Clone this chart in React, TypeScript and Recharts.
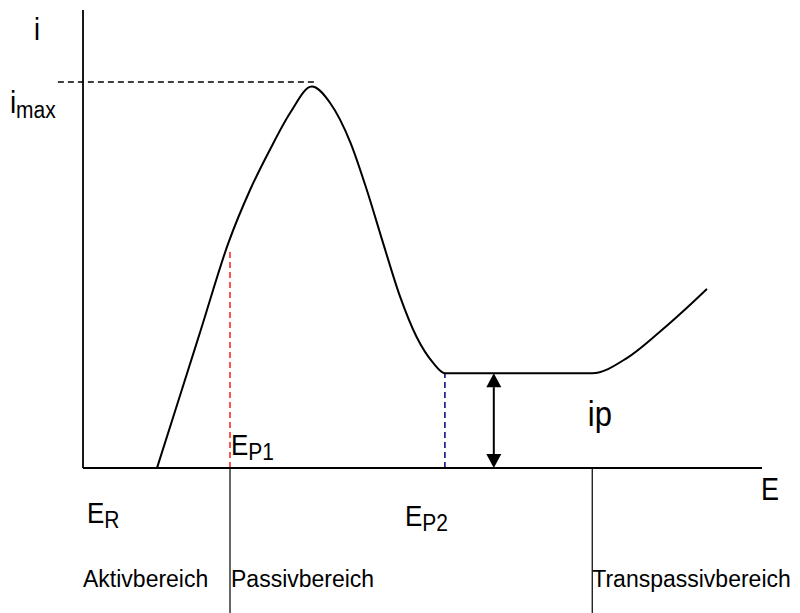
import React from 'react';
import { LineChart, Line, XAxis, YAxis, ReferenceLine, ReferenceDot } from 'recharts';

// Stromdichte-Potential-Kurve (schematisch), beliebige Einheiten
const potential = [1.09, 1.45, 1.73, 2.14, 2.46, 2.75, 3.05, 3.37, 3.64, 3.94, 4.18, 4.42, 4.67, 4.91, 5.16, 5.33, 7.5, 8.01, 8.5, 8.99, 9.19];
const current = [0, 1.68, 2.99, 4.91, 6.07, 6.94, 7.75, 8.33, 7.97, 7.1, 6.07, 4.91, 3.74, 2.87, 2.29, 2.07, 2.07, 2.4, 2.98, 3.63, 3.91];

const E_R = 1.09;
const E_P1 = 2.165;
const E_P2 = 5.33;
const E_T = 7.5;
const I_P = 2.07;
const I_MAX = 8.43;
const IP_ARROW_E = 6.05;
const RED_TOP = 4.76;

const regionLabels = ['Aktivbereich', 'Passivbereich', 'Transpassivbereich'];

const data = potential.map((e, idx) => ({ E: e, i: current[idx] }));

const FONT = '"Liberation Sans", Arial, sans-serif';

type TxtProps = {
  x: number;
  y: number;
  main: string;
  sub?: string;
  size?: number;
  subSize?: number;
  stretch?: number;
  anchor?: 'start' | 'middle' | 'end';
};

const Txt = ({ x, y, main, sub, size = 26, subSize = 20, stretch = 1.15, anchor = 'start' }: TxtProps) => (
  <text
    transform={`translate(${x} ${y}) scale(1 ${stretch})`}
    fontFamily={FONT}
    fontSize={size}
    fill="#000"
    textAnchor={anchor}
  >
    {main}
    {sub && (
      <tspan fontSize={subSize} dy={4}>
        {sub}
      </tspan>
    )}
  </text>
);

// Doppelpfeil fuer den Passivstrom
const DoubleArrow = (props: any) => {
  const { x1, y1, x2, y2 } = props;
  const x = (x1 + x2) / 2;
  const top = Math.min(y1, y2);
  const bottom = Math.max(y1, y2);
  const head = 14;
  const half = 7.5;
  return (
    <g>
      <line x1={x} y1={top + head} x2={x} y2={bottom - head} stroke="#000" strokeWidth={2} />
      <polygon points={`${x},${top} ${x - half},${top + head} ${x + half},${top + head}`} fill="#000" />
      <polygon points={`${x},${bottom} ${x - half},${bottom - head} ${x + half},${bottom - head}`} fill="#000" />
    </g>
  );
};

export default function App() {
  return (
    <div style={{ position: 'absolute', left: 0, top: 0, background: '#fff' }}>
      <LineChart width={800} height={613} data={data} margin={{ top: 10, right: 38, bottom: 144, left: 82 }}>
        <XAxis
          dataKey="E"
          type="number"
          domain={[0, 10]}
          allowDataOverflow
          height={1}
          tick={false}
          tickLine={false}
          axisLine={{ stroke: '#000', strokeWidth: 1.8 }}
          label={({ viewBox }: any) => <Txt x={viewBox.x + viewBox.width - 1} y={viewBox.y + 32} main="E" size={27} />}
        />
        <YAxis
          type="number"
          domain={[0, 10]}
          allowDataOverflow
          width={1}
          tick={false}
          tickLine={false}
          axisLine={{ stroke: '#000', strokeWidth: 1.8 }}
          label={({ viewBox }: any) => <Txt x={viewBox.x - 48} y={viewBox.y + 30} main="i" size={27} />}
        />

        <ReferenceLine
          segment={[{ x: -0.37, y: I_MAX }, { x: 3.46, y: I_MAX }]}
          stroke="#000"
          strokeWidth={1.5}
          strokeDasharray="6 4"
          ifOverflow="visible"
          label={({ viewBox }: any) => <Txt x={viewBox.x - 48} y={viewBox.y + 31} main="i" sub="max" size={28} subSize={21} />}
        />

        <ReferenceLine
          segment={[{ x: E_P1, y: 0 }, { x: E_P1, y: RED_TOP }]}
          stroke="#ff1a1a"
          strokeWidth={1.5}
          strokeDasharray="6 4"
          ifOverflow="visible"
          label={({ viewBox }: any) => (
            <Txt x={viewBox.x + 1} y={viewBox.y + viewBox.height - 13} main="E" sub="P1" subSize={21} />
          )}
        />

        <ReferenceLine
          segment={[{ x: E_P2, y: 0 }, { x: E_P2, y: I_P }]}
          stroke="#000080"
          strokeWidth={1.5}
          strokeDasharray="6 4"
          ifOverflow="visible"
          label={({ viewBox }: any) => (
            <Txt x={viewBox.x - 40} y={viewBox.y + viewBox.height + 58} main="E" sub="P2" subSize={21} />
          )}
        />

        <ReferenceLine
          segment={[{ x: E_P1, y: 0 }, { x: E_P1, y: -3.2 }]}
          stroke="#000"
          strokeWidth={1.2}
          ifOverflow="visible"
          label={({ viewBox }: any) => (
            <g>
              <Txt x={viewBox.x - 147} y={viewBox.y + 119} main={regionLabels[0]} size={23} stretch={1.05} />
              <Txt x={viewBox.x + 1} y={viewBox.y + 119} main={regionLabels[1]} size={23} stretch={1.05} />
            </g>
          )}
        />

        <ReferenceLine
          segment={[{ x: E_T, y: 0 }, { x: E_T, y: -3.2 }]}
          stroke="#000"
          strokeWidth={1.2}
          ifOverflow="visible"
          label={({ viewBox }: any) => (
            <Txt x={viewBox.x} y={viewBox.y + 119} main={regionLabels[2]} size={23} stretch={1.05} />
          )}
        />

        <ReferenceLine
          segment={[{ x: IP_ARROW_E, y: 0 }, { x: IP_ARROW_E, y: I_P }]}
          ifOverflow="visible"
          shape={DoubleArrow}
          label={({ viewBox }: any) => <Txt x={viewBox.x + 94} y={viewBox.y + 53} main="ip" size={31} />}
        />

        <ReferenceDot
          x={E_R}
          y={0}
          r={0}
          fill="none"
          stroke="none"
          ifOverflow="visible"
          label={({ viewBox }: any) => <Txt x={viewBox.x - 70} y={viewBox.y + 55} main="E" sub="R" subSize={21} />}
        />

        <Line
          type="monotone"
          dataKey="i"
          stroke="#000"
          strokeWidth={2}
          dot={false}
          activeDot={false}
          isAnimationActive={false}
        />
      </LineChart>
    </div>
  );
}
